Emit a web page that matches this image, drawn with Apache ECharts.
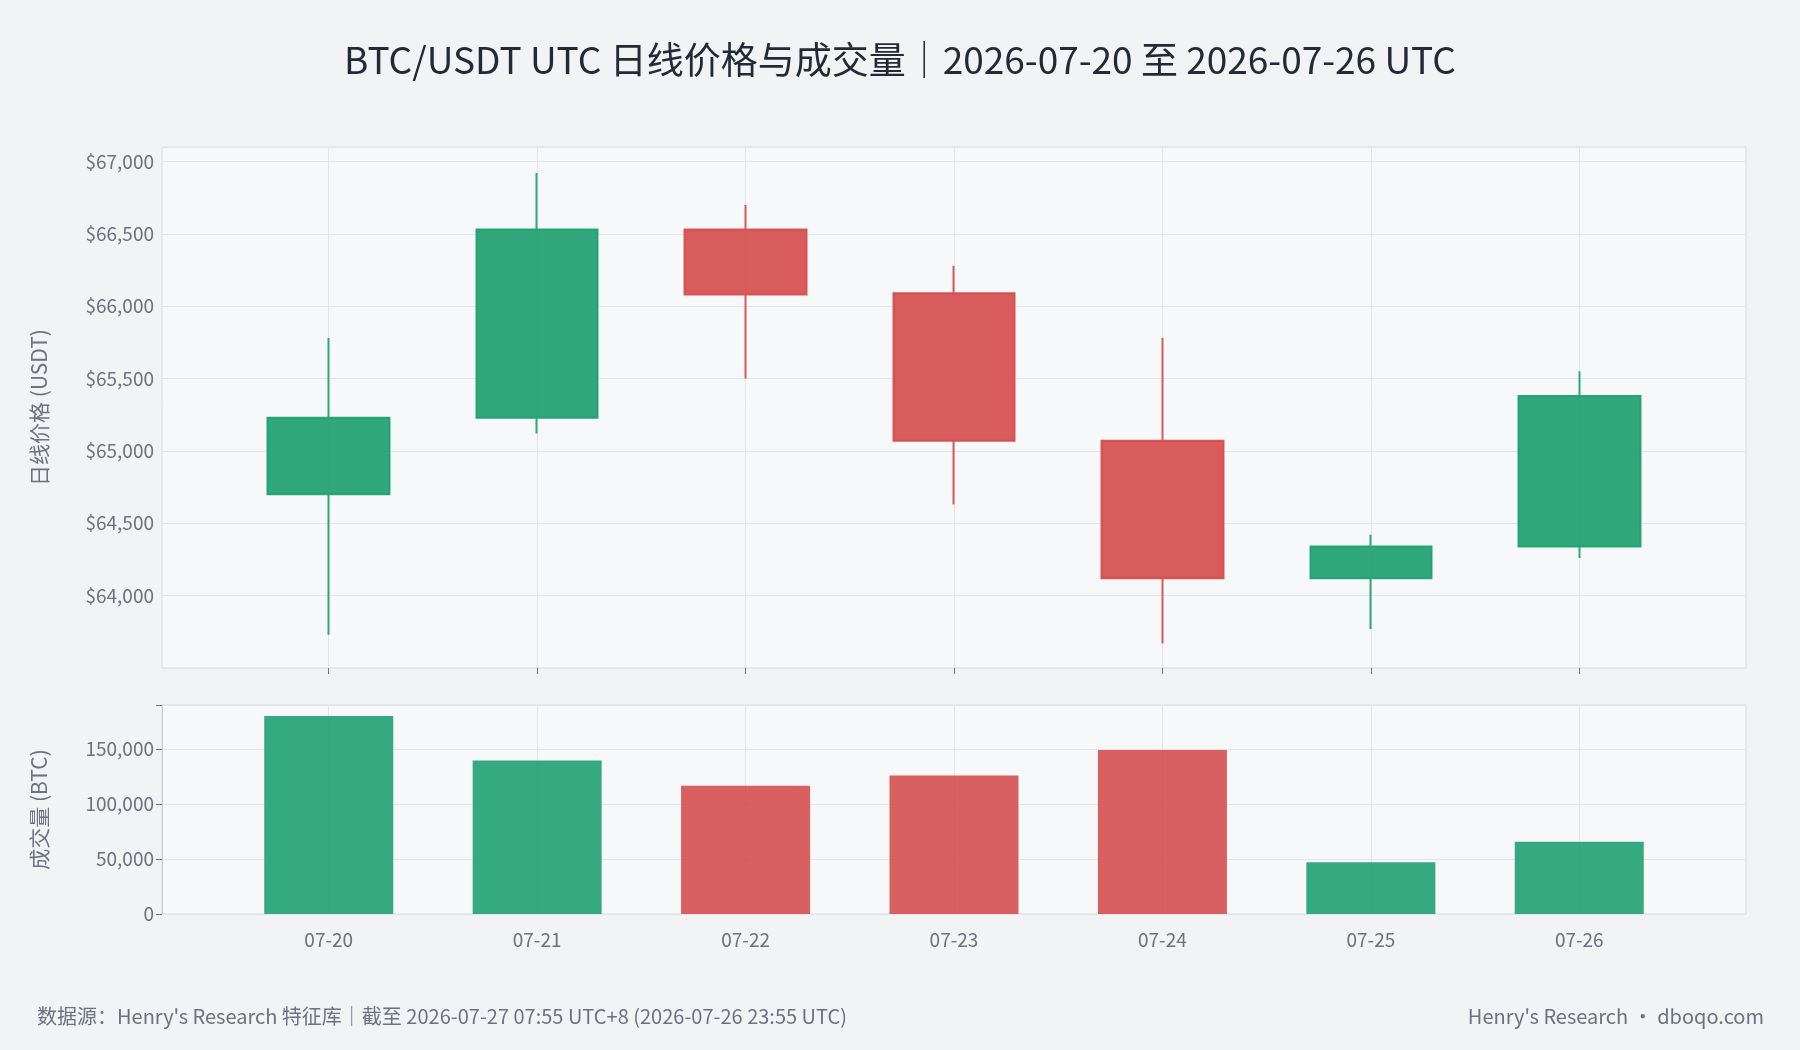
<!DOCTYPE html>
<html><head><meta charset="utf-8">
<script src="https://cdn.jsdelivr.net/npm/echarts@6/dist/echarts.min.js"></script>
<style>html,body{margin:0;background:#f2f3f5}#c{width:1800px;height:1050px}</style>
</head><body><div id="c"></div>
<script>
const categories=['07-20','07-21','07-22','07-23','07-24','07-25','07-26'];
// [open, close, low, high]
const ohlc=[
[64700,65230,63730,65780],
[65230,66530,65120,66920],
[66530,66080,65500,66700],
[66090,65070,64630,66280],
[65070,64120,63670,65780],
[64120,64340,63770,64420],
[64340,65380,64260,65550]];
const volumes=[180000,139600,116700,126000,149000,47000,65600];
const up='#1a9e6e',down='#d44a4a';
const font='"Noto Sans CJK SC","Noto Sans",sans-serif';
const chart=echarts.init(document.getElementById('c'));
const axisLab={color:'#6b7280',fontSize:19,fontFamily:font};
const split={show:true,lineStyle:{color:'#e2e5ea'}};
const idx=categories.map((c,i)=>i);
const xBase={type:'value',min:-0.8,max:6.8,splitLine:split,axisLine:{show:false}};
chart.setOption({
backgroundColor:'#f2f3f5',
textStyle:{fontFamily:font},
title:{text:'BTC/USDT UTC 日线价格与成交量｜2026-07-20 至 2026-07-26 UTC',left:'center',top:36,textStyle:{fontSize:37,fontWeight:'normal',color:'#222a35',fontFamily:font}},
graphic:[
{type:'text',left:37,top:1006,style:{text:"数据源：Henry's Research 特征库｜截至 2026-07-27 07:55 UTC+8 (2026-07-26 23:55 UTC)",fill:'#6b7280',font:'20px '+font}},
{type:'text',right:36,top:1006,style:{text:"Henry's Research · dboqo.com",fill:'#6b7280',font:'20px '+font}}],
grid:[{left:162,right:54,top:147,height:521,show:true,backgroundColor:'#f7f8fa',borderColor:'#d8dce2'},
{left:162,right:54,top:705,height:209,show:true,backgroundColor:'#f7f8fa',borderColor:'#d8dce2'}],
xAxis:[Object.assign({gridIndex:0,axisLabel:{show:false,customValues:idx},axisTick:{show:true,customValues:idx,length:6,lineStyle:{color:'#6b7280'}}},xBase),
Object.assign({gridIndex:1,axisLabel:Object.assign({margin:16,customValues:idx,formatter:v=>categories[Math.round(v)]||''},axisLab),axisTick:{show:false,customValues:idx}},xBase)],
yAxis:[{type:'value',gridIndex:0,min:63500,max:67100,interval:500,name:'日线价格 (USDT)',nameLocation:'middle',nameGap:112,nameTextStyle:{color:'#6b7280',fontSize:21,fontFamily:font},
axisLabel:Object.assign({formatter:v=>v<63900?'':'$'+v.toLocaleString('en-US')},axisLab),axisLine:{show:false,onZero:false},axisTick:{show:false},splitLine:split},
{type:'value',gridIndex:1,min:0,max:190000,interval:50000,name:'成交量 (BTC)',nameLocation:'middle',nameGap:112,nameTextStyle:{color:'#6b7280',fontSize:21,fontFamily:font},
axisLabel:Object.assign({formatter:v=>v>180000?'':v.toLocaleString('en-US')},axisLab),axisLine:{onZero:false,lineStyle:{color:'#c8ccd3'}},axisTick:{show:true,length:6,lineStyle:{color:'#6b7280'}},splitLine:split}],
series:[
{type:'candlestick',xAxisIndex:0,yAxisIndex:0,data:ohlc.map((d,i)=>[i].concat(d)),encode:{x:0,y:[1,2,3,4]},barWidth:122,
itemStyle:{color:up,borderColor:up,color0:down,borderColor0:down,opacity:0.9,borderWidth:2}},
{type:'bar',xAxisIndex:1,yAxisIndex:1,barWidth:129,
data:volumes.map((v,i)=>({value:[i,v],itemStyle:{color:ohlc[i][1]>=ohlc[i][0]?up:down,opacity:0.88}}))}]
});
</script></body></html>
